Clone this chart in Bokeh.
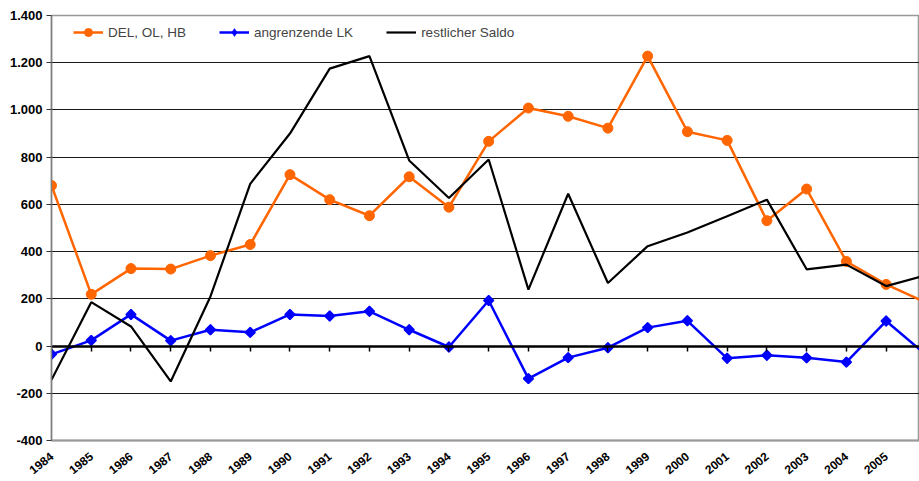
from math import pi
from bokeh.plotting import figure
from bokeh.models import FixedTicker, LinearAxis, Range1d, Legend, LegendItem
from bokeh.embed import file_html
from bokeh.resources import INLINE

years = list(range(1984, 2007))
del_ol_hb = [680, 219, 328, 326, 383, 430, 726, 620, 552, 717, 588, 867, 1008, 973, 923,
             1228, 908, 871, 531, 665, 358, 261, 185]
angrenzende_lk = [-35, 24, 134, 23, 69, 58, 134, 127, 147, 69, -4, 193, -138, -49, -7,
                  78, 107, -52, -39, -50, -68, 106, -36]
restlicher_saldo = [-143, 186, 83, -150, 210, 687, 900, 1175, 1228, 786, 627, 790, 239, 645,
                    267, 423, 481, 550, 620, 325, 345, 254, 300]
series_names = ["DEL, OL, HB", "angrenzende LK", "restlicher Saldo"]
y_ticks = [-400, -200, 0, 200, 400, 600, 800, 1000, 1200, 1400]
y_tick_labels = ["-400", "-200", "0", "200", "400", "600", "800", "1.000", "1.200", "1.400"]

FONT = "Liberation Sans"

p = figure(width=919, height=481, output_backend="svg", toolbar_location=None,
           x_range=Range1d(1984, 2005.84), y_range=Range1d(-400, 1400),
           min_border_left=51, min_border_right=0, min_border_top=15, min_border_bottom=41)
p.outline_line_color = "#999999"
p.outline_line_width = 1.5

# y axis
p.yaxis.ticker = FixedTicker(ticks=y_ticks)
p.yaxis.major_label_overrides = {t: l for t, l in zip(y_ticks, y_tick_labels)}
p.yaxis.major_label_text_font = FONT
p.yaxis.major_label_text_font_style = "bold"
p.yaxis.major_label_text_font_size = "13px"
p.yaxis.major_label_text_color = "black"
p.yaxis.axis_line_color = "#808080"
p.yaxis.axis_line_width = 1.5
p.yaxis.major_tick_line_color = "#333333"
p.yaxis.major_tick_out = 5
p.yaxis.major_tick_in = 0
p.yaxis.minor_tick_line_color = None
p.yaxis.major_label_standoff = 4

# x axis (labels only, at the bottom)
p.xaxis.ticker = FixedTicker(ticks=years)
p.xaxis.major_label_text_font = FONT
p.xaxis.major_label_text_font_style = "bold"
p.xaxis.major_label_text_font_size = "12px"
p.xaxis.major_label_text_color = "black"
p.xaxis.major_label_orientation = 0.68
p.xaxis.axis_line_color = "#999999"
p.xaxis.axis_line_width = 2
p.xaxis.major_tick_line_color = None
p.xaxis.minor_tick_line_color = None
p.xaxis.major_label_standoff = 8

# zero line with tick marks
zero_axis = LinearAxis(fixed_location=0, ticker=FixedTicker(ticks=years),
                       axis_line_color="black", axis_line_width=2.5,
                       major_tick_line_color="black", major_tick_line_width=1.5,
                       major_tick_out=5, major_tick_in=0,
                       minor_tick_line_color=None,
                       major_label_overrides={y: "" for y in years})
p.add_layout(zero_axis, "below")

p.xgrid.grid_line_color = None
p.ygrid.ticker = FixedTicker(ticks=y_ticks)
p.ygrid.grid_line_color = "#1a1a1a"
p.ygrid.grid_line_width = 1

orange = "#FF6600"
blue = "#0000FF"

l1 = p.line(years, del_ol_hb, line_color=orange, line_width=2.5)
m1 = p.scatter(years, del_ol_hb, marker="circle", size=10, fill_color=orange, line_color=orange)
l2 = p.line(years, angrenzende_lk, line_color=blue, line_width=2.5)
d2 = p.scatter(years, angrenzende_lk, marker="diamond", size=10.5,
               fill_color=blue, line_color=blue, line_width=0.5)
m2 = p.scatter(years, angrenzende_lk, marker="square", angle=pi / 4, size=7,
               fill_color=blue, line_color=blue, line_width=1.5)
l3 = p.line(years, restlicher_saldo, line_color="black", line_width=2.2)

legend = Legend(items=[LegendItem(label=series_names[0], renderers=[l1, m1]),
                       LegendItem(label=series_names[1], renderers=[l2, d2]),
                       LegendItem(label=series_names[2], renderers=[l3])],
                orientation="horizontal", location=(22, 398),
                padding=8, margin=0, spacing=33, label_standoff=5,
                glyph_width=30, glyph_height=20,
                label_text_font=FONT, label_text_font_size="13.5px",
                border_line_color=None, background_fill_alpha=0)
p.add_layout(legend, "center")

open("out.html", "w").write(file_html(p, INLINE))
